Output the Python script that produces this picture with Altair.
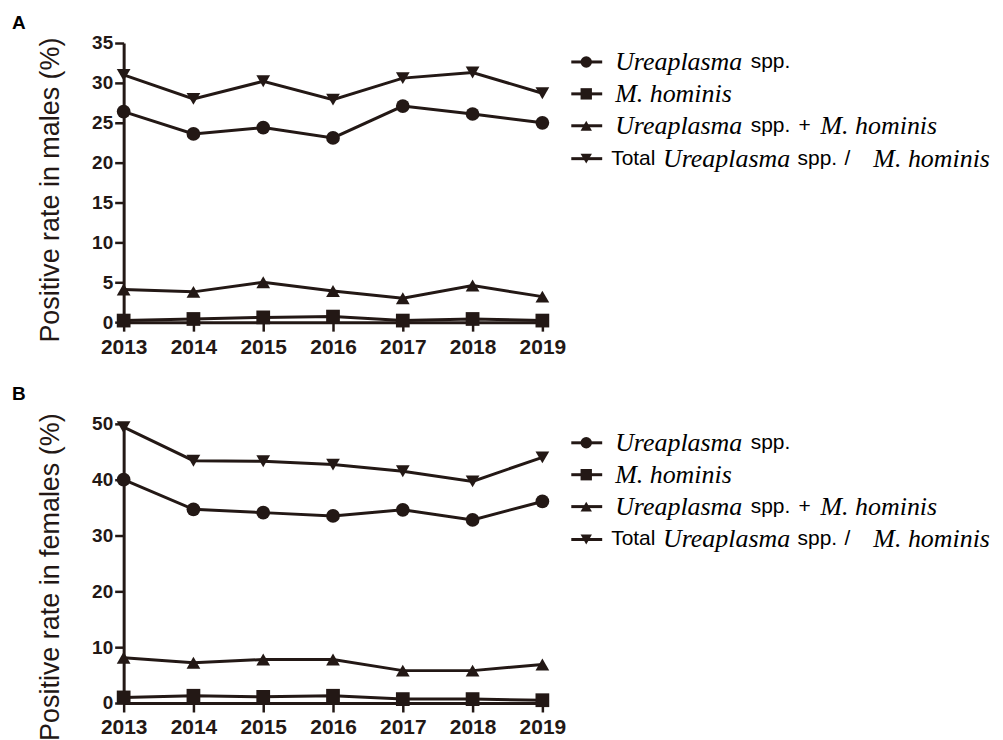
import altair as alt
import pandas as pd

# ---------------- data ----------------
years = [2013, 2014, 2015, 2016, 2017, 2018, 2019]
series_names = [
    "Ureaplasma spp.",
    "M. hominis",
    "Ureaplasma spp. + M. hominis",
    "Total Ureaplasma spp. / M. hominis",
]
series_shapes = ["circle", "square", "triangle-up", "triangle-down"]

male_urea = [26.4, 23.6, 24.4, 23.1, 27.1, 26.1, 25.0]
male_mh = [0.2, 0.4, 0.6, 0.7, 0.2, 0.4, 0.2]
male_both = [4.1, 3.8, 5.0, 3.9, 3.0, 4.6, 3.2]
male_total = [31.0, 28.0, 30.2, 27.9, 30.6, 31.3, 28.7]

female_urea = [40.0, 34.7, 34.1, 33.5, 34.6, 32.8, 36.1]
female_mh = [1.0, 1.3, 1.1, 1.3, 0.7, 0.7, 0.5]
female_both = [8.1, 7.2, 7.8, 7.8, 5.8, 5.8, 6.9]
female_total = [49.4, 43.4, 43.3, 42.7, 41.5, 39.7, 44.0]

# legend label pieces (text, font kind)
legend_pieces = [
    [("Ureaplasma", "serif"), ("spp.", "sans")],
    [("M. hominis", "serif")],
    [("Ureaplasma", "serif"), ("spp.", "sans"), ("+", "sans"), ("M. hominis", "serif")],
    [("Total", "sans"), ("Ureaplasma", "serif"), ("spp.", "sans"), ("/", "sans"), ("M. hominis", "serif")],
]

# ---------------- layout (pixels, relative to plot area) ----------------
legend_piece_x = [[493, 629], [493], [493, 629, 677, 699], [489, 541, 676, 723, 752]]
legend_row_y = [19, 51, 83, 116]
INK = "#231815"
W, H = 420, 280


def panel(values_lists, letter, letter_y, y_max, y_step, title, title_y):
    rows = []
    for name, vals in zip(series_names, values_lists):
        for yr, v in zip(years, vals):
            rows.append({"year": yr, "value": v, "series": name})
    df = pd.DataFrame(rows)

    shape_scale = alt.Scale(domain=series_names, range=series_shapes)
    x = alt.X(
        "year:Q",
        scale=alt.Scale(domain=[2013, 2019], nice=False, zero=False),
        axis=alt.Axis(
            values=years, format="d", title=None, grid=False,
            domainColor=INK, domainWidth=3, tickColor=INK, tickWidth=2.5, tickSize=9,
            labelFont="Liberation Sans", labelFontWeight="bold", labelFontSize=21,
            labelColor=INK, labelPadding=5, labelFlush=False, labelOverlap=False,
        ),
    )
    y = alt.Y(
        "value:Q",
        scale=alt.Scale(domain=[0, y_max], nice=False),
        axis=alt.Axis(
            values=list(range(0, y_max + 1, y_step)), title=title, grid=False,
            domainColor=INK, domainWidth=3, tickColor=INK, tickWidth=2.5, tickSize=9,
            labelFont="Liberation Sans", labelFontWeight="bold", labelFontSize=19,
            labelColor=INK, labelPadding=2,
            titleFont="Liberation Sans", titleFontWeight="normal", titleFontSize=27,
            titleColor=INK, titleX=-73, titleY=title_y, titleAngle=-90,
            titleAlign="right", titleBaseline="middle",
        ),
    )
    base = alt.Chart(df)
    lines = base.mark_line(color=INK, strokeWidth=3).encode(x=x, y=y, detail="series:N")
    pts = base.mark_point(filled=True, opacity=1, color=INK, size=190).encode(
        x=x, y=y, shape=alt.Shape("series:N", scale=shape_scale, legend=None)
    )

    leg_df = pd.DataFrame({"series": series_names, "ly": legend_row_y})
    leg_rule = alt.Chart(leg_df).mark_rule(color=INK, strokeWidth=3).encode(
        x=alt.value(449), x2=alt.value(480),
        y=alt.Y("ly:Q", scale=None, axis=None),
    )
    leg_pts = alt.Chart(leg_df).mark_point(filled=True, opacity=1, color=INK, size=130).encode(
        x=alt.value(464),
        y=alt.Y("ly:Q", scale=None, axis=None),
        shape=alt.Shape("series:N", scale=shape_scale, legend=None),
    )

    prow = []
    for i, pieces in enumerate(legend_pieces):
        for (t, kind), px in zip(pieces, legend_piece_x[i]):
            prow.append({"t": t, "kind": kind, "lx": px, "ly": legend_row_y[i]})
    pdf = pd.DataFrame(prow)
    txt_enc = dict(
        x=alt.X("lx:Q", scale=None, axis=None),
        y=alt.Y("ly:Q", scale=None, axis=None),
        text="t:N",
    )
    serif_txt = alt.Chart(pdf).transform_filter(alt.datum.kind == "serif").mark_text(
        font="Liberation Serif", fontStyle="italic", fontSize=26, align="left",
        baseline="middle", color="black",
    ).encode(**txt_enc)
    sans_txt = alt.Chart(pdf).transform_filter(alt.datum.kind == "sans").mark_text(
        font="Liberation Sans", fontSize=21, align="left", baseline="middle", color="black",
    ).encode(**txt_enc)

    letter_txt = alt.Chart(pd.DataFrame({"t": [letter]})).mark_text(
        font="Liberation Sans", fontWeight="bold", fontSize=19, align="left",
        baseline="top", color="black",
    ).encode(x=alt.value(-112), y=alt.value(letter_y), text="t:N")

    return alt.layer(lines, pts, leg_rule, leg_pts, serif_txt, sans_txt, letter_txt).properties(
        width=W, height=H
    )


pA = panel([male_urea, male_mh, male_both, male_total], "A", -29, 35, 5,
           "Positive rate in males (%)", -6)
pB = panel([female_urea, female_mh, female_both, female_total], "B", -39, 50, 10,
           "Positive rate in females (%)", -11)

chart = (
    alt.vconcat(pA, pB, spacing=28)
    .properties(padding={"left": 4, "top": 5, "right": 5, "bottom": 5})
    .configure_view(stroke=None)
)

chart.save("out.html", embed_options={"renderer": "svg", "actions": False})
